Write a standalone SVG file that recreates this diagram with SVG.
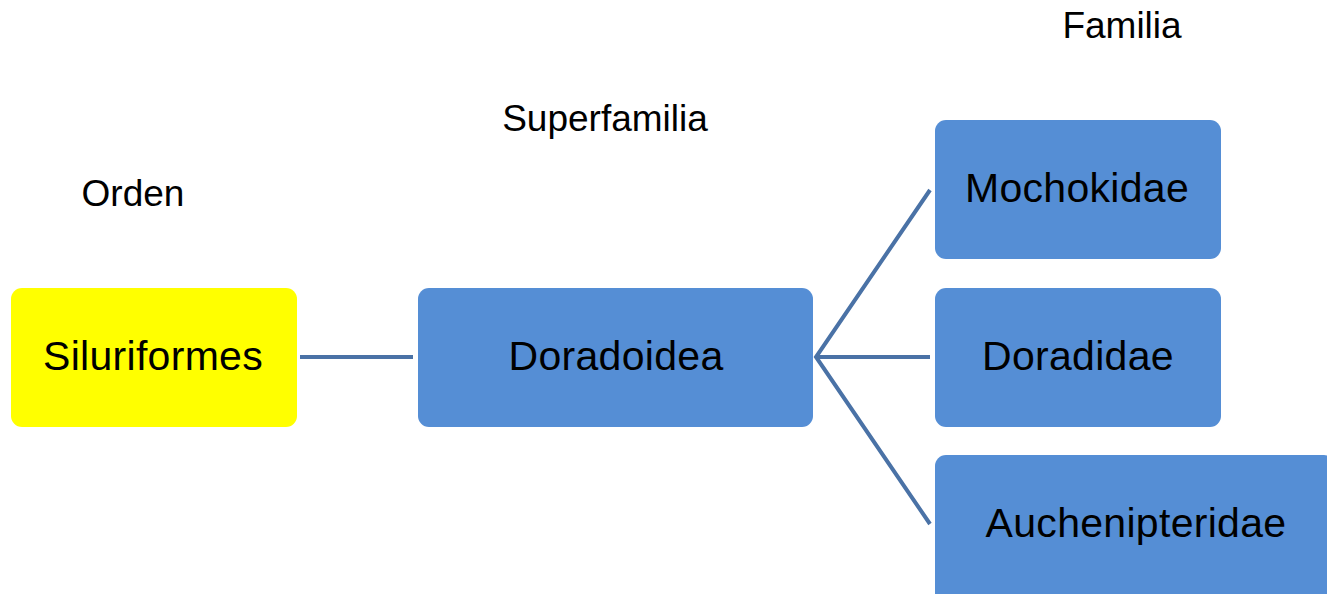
<svg xmlns="http://www.w3.org/2000/svg" width="1327" height="594" viewBox="0 0 1327 594">
  <style>
    .box { fill: #558ed5; }
    .root { fill: #ffff00; }
    .lbl { font-family: "Liberation Sans", Arial, sans-serif; font-size: 41px; fill: #000; text-anchor: middle; letter-spacing: 0.3px; }
    .hdr { font-family: "Liberation Sans", Arial, sans-serif; font-size: 37px; fill: #000; text-anchor: middle; }
    .link { stroke: #4a72a6; stroke-width: 4; fill: none; }
  </style>
  <rect width="1327" height="594" fill="#ffffff"/>

  <!-- rank headings -->
  <text class="hdr" x="133" y="206">Orden</text>
  <text class="hdr" x="605" y="131">Superfamilia</text>
  <text class="hdr" x="1122" y="38">Familia</text>

  <!-- connectors -->
  <g id="connectors">
    <line class="link" x1="300" y1="357" x2="413" y2="357"/>
    <polyline class="link" points="930,190 816,357 930,524"/>
    <line class="link" x1="816" y1="357" x2="930" y2="357"/>
  </g>

  <g id="siluriformes">
    <rect class="root" x="11" y="288" width="286" height="139" rx="11"/>
    <text class="lbl" x="153" y="370">Siluriformes</text>
  </g>
  <g id="doradoidea">
    <rect class="box" x="418" y="288" width="395" height="139" rx="11"/>
    <text class="lbl" x="616" y="370">Doradoidea</text>
  </g>
  <g id="mochokidae">
    <rect class="box" x="935" y="120" width="286" height="139" rx="11"/>
    <text class="lbl" x="1077" y="202">Mochokidae</text>
  </g>
  <g id="doradidae">
    <rect class="box" x="935" y="288" width="286" height="139" rx="11"/>
    <text class="lbl" x="1078" y="370">Doradidae</text>
  </g>
  <g id="auchenipteridae">
    <rect class="box" x="935" y="455" width="400" height="150" rx="11"/>
    <text class="lbl" x="1136" y="537">Auchenipteridae</text>
  </g>
</svg>
